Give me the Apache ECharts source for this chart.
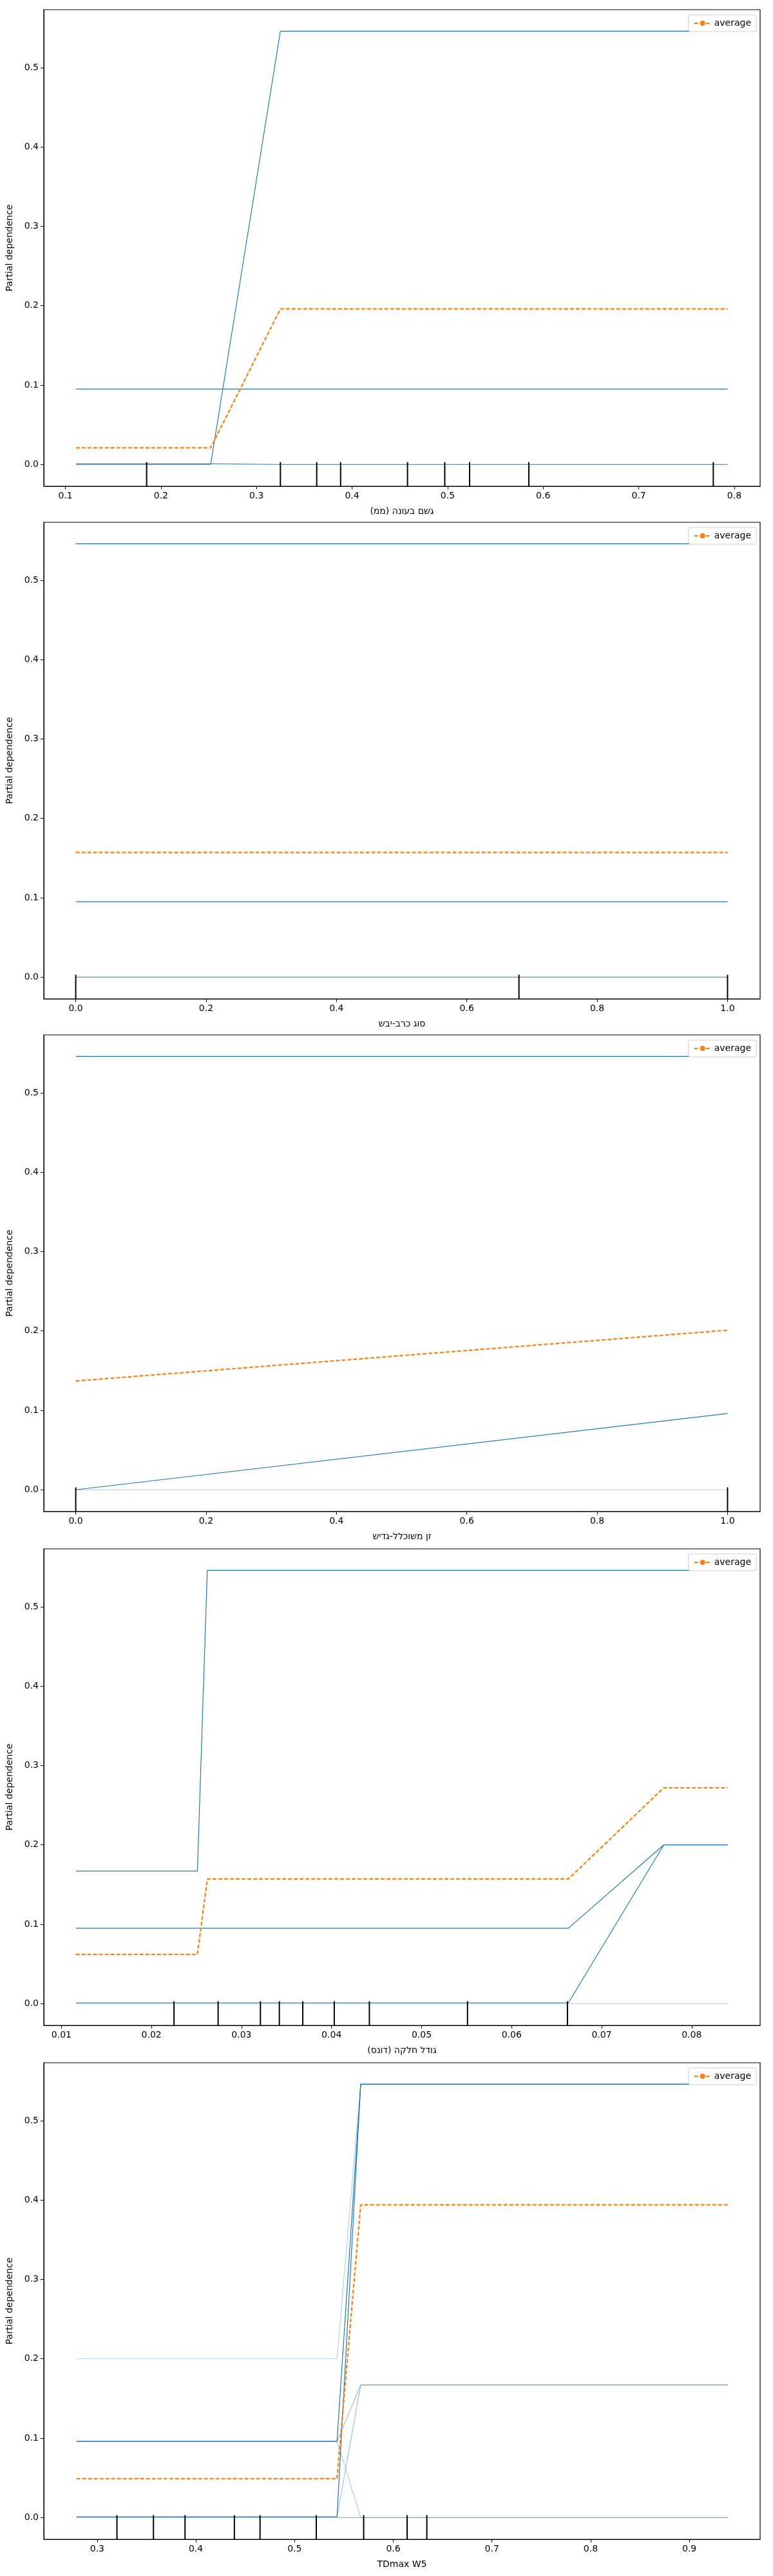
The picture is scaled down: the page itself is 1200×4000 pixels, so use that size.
<!DOCTYPE html>
<html>
<head>
<meta charset="utf-8">
<script src="https://cdn.jsdelivr.net/npm/echarts@6/dist/echarts.min.js"></script>
<style>
  html, body { margin: 0; padding: 0; background: #fff; }
  #chart { width: 1200px; height: 4000px; }
</style>
</head>
<body>
<div id="chart"></div>
<script>
(function() {
  // x labels in logical order; the browser lays them out right-to-left,
  // which gives the same visual order as the picture
  var xLabels = [
    'גשם בעונה (ממ)',
    'סוג כרב-יבש',
    'זן משוכלל-גדיש',
    'גודל חלקה (דונס)',
    'TDmax W5'
  ];
  var rtl = [true, true, true, true, false];

  // --- panel 1 ---
  var grid1X = [0.111, 0.252, 0.325, 0.793];
  var ice1 = [
    [0, 0, 0.546, 0.546],
    [0.095, 0.095, 0.095, 0.095],
    [0.001, 0.001, 0, 0]
  ];
  var avg1 = [0.021, 0.021, 0.196, 0.196];
  var rug1 = [0.185, 0.325, 0.363, 0.388, 0.458, 0.497, 0.523, 0.585, 0.778];

  // --- panel 2 ---
  var grid2X = [0, 1];
  var ice2 = [
    [0.546, 0.546],
    [0.095, 0.095],
    [0, 0]
  ];
  var avg2 = [0.157, 0.157];
  var rug2 = [0, 0.68, 1.0];

  // --- panel 3 ---
  var grid3X = [0, 1];
  var ice3 = [
    [0.546, 0.546],
    [0, 0.096],
    [0, 0]
  ];
  var avg3 = [0.137, 0.201];
  var rug3 = [0, 1.0];

  // --- panel 4 ---
  var grid4X = [0.0116, 0.0251, 0.0262, 0.0663, 0.0769, 0.0840];
  var ice4 = [
    [0.167, 0.167, 0.546, 0.546, 0.546, 0.546],
    [0.095, 0.095, 0.095, 0.095, 0.200, 0.200],
    [0.001, 0.001, 0.001, 0.001, 0.200, 0.200],
    [0, 0, 0, 0, 0, 0]
  ];
  var avg4 = [0.062, 0.062, 0.157, 0.157, 0.272, 0.272];
  var rug4 = [0.0225, 0.0274, 0.0321, 0.0342, 0.0368, 0.0403, 0.0442, 0.0551, 0.0662];

  // --- panel 5 ---
  var grid5X = [0.279, 0.543, 0.567, 0.939];
  var ice5 = [
    [0.096, 0.096, 0.546, 0.546],
    [0.001, 0.001, 0.546, 0.546],
    [0.200, 0.200, 0.546, 0.546],
    [0.096, 0.096, 0.167, 0.167],
    [0.001, 0.001, 0.167, 0.167],
    [0.096, 0.096, 0, 0],
    [0, 0, 0, 0]
  ];
  var ice5Alpha = [1, 1, 0.35, 0.45, 0.45, 0.35, 0.6];
  var avg5 = [0.049, 0.049, 0.394, 0.394];
  var rug5 = [0.320, 0.357, 0.389, 0.439, 0.465, 0.522, 0.570, 0.614, 0.634];

  var panels = [
    { gx: grid1X, ice: ice1, alpha: [1, 1, 1], avg: avg1, rug: rug1, xMin: 0.0774, xMax: 0.827, step: 0.1, dec: 1 },
    { gx: grid2X, ice: ice2, alpha: [1, 1, 1], avg: avg2, rug: rug2, xMin: -0.049, xMax: 1.05, step: 0.2, dec: 1 },
    { gx: grid3X, ice: ice3, alpha: [1, 1, 0.4], avg: avg3, rug: rug3, xMin: -0.049, xMax: 1.05, step: 0.2, dec: 1 },
    { gx: grid4X, ice: ice4, alpha: [1, 1, 1, 0.4], avg: avg4, rug: rug4, xMin: 0.00804, xMax: 0.0876, step: 0.01, dec: 2 },
    { gx: grid5X, ice: ice5, alpha: ice5Alpha, avg: avg5, rug: rug5, xMin: 0.2459, xMax: 0.9717, step: 0.1, dec: 1 }
  ];

  var yMin = -0.0274, yMax = 0.573;
  var tops = [15, 811, 1607, 2405, 3203];
  var font = 'DejaVu Sans';
  var blue = '#1f77b4', orange = '#ff7f0e';

  function zip(xs, ys) {
    return xs.map(function(x, i) { return [x, ys[i]]; });
  }

  var grids = [], xAxes = [], yAxes = [], series = [], legends = [];
  panels.forEach(function(p, k) {
    grids.push({ left: 68, right: 20, top: tops[k], height: 740, show: true, borderColor: '#000', borderWidth: 1.2 });
    xAxes.push({
      type: 'value', gridIndex: k, min: p.xMin, max: p.xMax,
      minInterval: p.step, maxInterval: p.step,
      name: rtl[k] ? '\u200F' + xLabels[k] + '\u200F' : xLabels[k],
      nameLocation: 'middle', nameGap: 32,
      nameTextStyle: { fontFamily: font, fontSize: 14, color: '#000' },
      axisLine: { onZero: false, lineStyle: { color: '#000' } },
      axisTick: { lineStyle: { color: '#000' }, length: 5 },
      axisLabel: { showMinLabel: false, showMaxLabel: false, fontFamily: font, fontSize: 14, color: '#000',
        formatter: function(v) { return v.toFixed(p.dec); } },
      splitLine: { show: false }
    });
    yAxes.push({
      type: 'value', gridIndex: k, min: yMin, max: yMax,
      minInterval: 0.1, maxInterval: 0.1,
      name: 'Partial dependence', nameLocation: 'middle', nameGap: 46,
      nameTextStyle: { fontFamily: font, fontSize: 14, color: '#000' },
      axisLine: { show: true, onZero: false, lineStyle: { color: '#000' } },
      axisTick: { show: true, lineStyle: { color: '#000' }, length: 5 },
      axisLabel: { showMinLabel: false, showMaxLabel: false, fontFamily: font, fontSize: 14, color: '#000',
        formatter: function(v) { return v.toFixed(1); } },
      splitLine: { show: false }
    });
    p.ice.forEach(function(ys, j) {
      series.push({
        type: 'line', xAxisIndex: k, yAxisIndex: k, symbol: 'none', silent: true,
        data: zip(p.gx, ys),
        lineStyle: { color: blue, width: 1.2, opacity: p.alpha[j] }
      });
    });
    series.push({
      type: 'line', name: 'average', xAxisIndex: k, yAxisIndex: k, symbol: 'none', silent: true,
      data: zip(p.gx, p.avg), z: 5,
      itemStyle: { color: orange },
      lineStyle: { color: orange, width: 2.2, type: [6, 3] }
    });
    series.push({
      type: 'custom', xAxisIndex: k, yAxisIndex: k, silent: true, z: 6,
      data: p.rug.map(function(x) { return [x]; }),
      renderItem: function(params, api) {
        var a = api.coord([api.value(0), 0.003]);
        var b = api.coord([api.value(0), yMin]);
        return { type: 'line', shape: { x1: a[0], y1: a[1], x2: b[0], y2: b[1] },
          style: { stroke: '#000', lineWidth: 2 } };
      }
    });
    legends.push({
      data: [{ name: 'average' }], top: tops[k] + 8, right: 26,
      itemWidth: 26, itemHeight: 10, padding: [6, 8], itemGap: 6,
      borderColor: '#ccc', borderWidth: 1, borderRadius: 3, backgroundColor: '#fff',
      textStyle: { fontFamily: font, fontSize: 14, color: '#000' }
    });
  });

  var chart = echarts.init(document.getElementById('chart'), null, { renderer: 'canvas' });
  chart.setOption({
    animation: false,
    legend: legends,
    grid: grids,
    xAxis: xAxes,
    yAxis: yAxes,
    series: series
  });
})();
</script>
</body>
</html>
